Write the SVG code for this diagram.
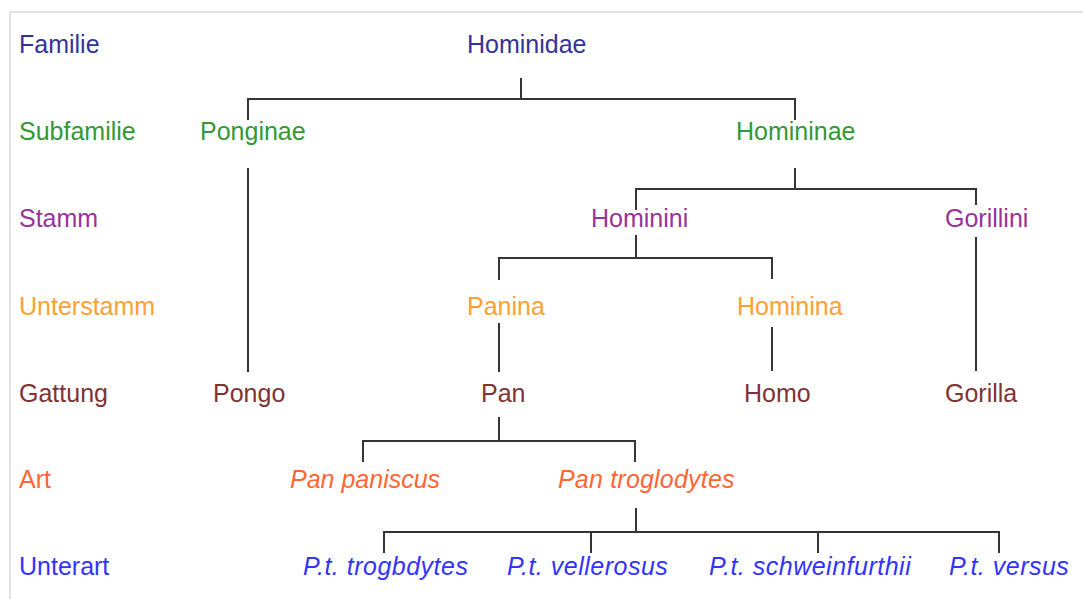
<svg xmlns="http://www.w3.org/2000/svg" width="1083" height="599" viewBox="0 0 1083 599">
  <style>
    text { font-family: "Liberation Sans", Arial, sans-serif; font-size: 25px; }
    .it { font-style: italic; }
    .wide { letter-spacing: 0.5px; }
    .fam { fill: #333399; }
    .sub { fill: #339933; }
    .stm { fill: #993399; }
    .ust { fill: #ffa033; }
    .gat { fill: #803333; }
    .art { fill: #ff6633; }
    .uar { fill: #3333ff; }
    .conn path { fill: none; stroke: #353535; stroke-width: 2; }
  </style>
  <rect width="1083" height="599" fill="#ffffff"/>
  <!-- frame -->
  <path d="M10,599 V12 H1083" fill="none" stroke="#e2e2e2" stroke-width="2"/>

  <!-- rank labels -->
  <g id="ranks">
    <text class="fam" x="19" y="53">Familie</text>
    <text class="sub" x="19" y="140">Subfamilie</text>
    <text class="stm" x="19" y="227">Stamm</text>
    <text class="ust" x="19" y="315">Unterstamm</text>
    <text class="gat" x="19" y="402">Gattung</text>
    <text class="art" x="19" y="488">Art</text>
    <text class="uar" x="19" y="575">Unterart</text>
  </g>

  <!-- connectors -->
  <g id="connectors" class="conn">
    <path d="M521,78 V99"/>
    <path d="M248,120 V99 H795 V120"/>
    <path d="M248,168 V372"/>
    <path d="M795,168 V189"/>
    <path d="M636,210 V189 H976 V205"/>
    <path d="M976,237 V371"/>
    <path d="M636,235 V258"/>
    <path d="M499,280 V258 H772 V279"/>
    <path d="M499,323 V372"/>
    <path d="M772,327 V371"/>
    <path d="M499,417 V441"/>
    <path d="M363,462 V441 H635 V462"/>
    <path d="M636,508 V532"/>
    <path d="M384,553 V532 H999 V553"/>
    <path d="M591,532 V553"/>
    <path d="M818,532 V553"/>
  </g>

  <!-- taxa -->
  <g id="hominidae"><text class="fam" x="467" y="53">Hominidae</text></g>
  <g id="ponginae"><text class="sub" x="200" y="140">Ponginae</text></g>
  <g id="homininae"><text class="sub" x="736" y="140">Homininae</text></g>
  <g id="hominini"><text class="stm" x="591" y="227">Hominini</text></g>
  <g id="gorillini"><text class="stm" x="945" y="227">Gorillini</text></g>
  <g id="panina"><text class="ust" x="467" y="315">Panina</text></g>
  <g id="hominina"><text class="ust" x="737" y="315">Hominina</text></g>
  <g id="pongo"><text class="gat" x="213" y="402">Pongo</text></g>
  <g id="pan"><text class="gat" x="481" y="402">Pan</text></g>
  <g id="homo"><text class="gat" x="744" y="402">Homo</text></g>
  <g id="gorilla"><text class="gat" x="945" y="402">Gorilla</text></g>
  <g id="pan-paniscus"><text class="art it" x="290" y="488">Pan paniscus</text></g>
  <g id="pan-troglodytes"><text class="art it" x="558" y="488" letter-spacing="0.2">Pan troglodytes</text></g>
  <g id="pt-troglodytes"><text class="uar it wide" x="303" y="575" letter-spacing="0.8">P.t. trogbdytes</text></g>
  <g id="pt-vellerosus"><text class="uar it wide" x="507" y="575">P.t. vellerosus</text></g>
  <g id="pt-schweinfurthii"><text class="uar it wide" x="709" y="575">P.t. schweinfurthii</text></g>
  <g id="pt-versus"><text class="uar it wide" x="949" y="575">P.t. versus</text></g>
</svg>
